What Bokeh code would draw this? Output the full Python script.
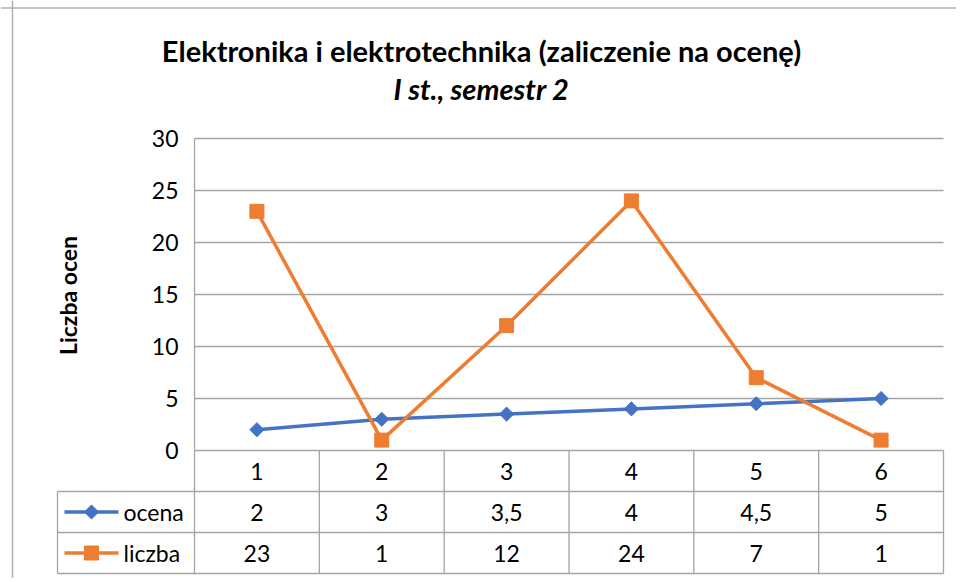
import numpy as np
from bokeh.plotting import figure
from bokeh.models import Range1d, Span
from bokeh.core.properties import value
from bokeh.embed import file_html
from bokeh.resources import INLINE

# ---- data ----
categories = ["1", "2", "3", "4", "5", "6"]
ocena = [2, 3, 3.5, 4, 4.5, 5]
liczba = [23, 1, 12, 24, 7, 1]
ocena_labels = ["2", "3", "3,5", "4", "4,5", "5"]
liczba_labels = ["23", "1", "12", "24", "7", "1"]
yticks = [0, 5, 10, 15, 20, 25, 30]
series_names = ["ocena", "liczba"]
title_text = "Elektronika i elektrotechnika (zaliczenie na ocenę)"
subtitle_text = "I st., semestr 2"
ytitle_text = "Liczba ocen"

# ---- layout (page pixels) ----
W, H = 956, 578
PAGE_X0, PAGE_Y0 = 0, 0
PLOT_LEFT, PLOT_RIGHT = 194, 943
Y0_PX, Y30_PX = 450, 138
ROW_PX = [450, 491, 532, 573]
KEY_LEFT = 57

ncat = len(categories)
px_per_x = (PLOT_RIGHT - PLOT_LEFT) / ncat
px_per_y = (Y0_PX - Y30_PX) / 30.0


def dx(page_x):
    return 0.5 + (page_x - PLOT_LEFT) / px_per_x


def dy(page_y):
    return (Y0_PX - page_y) / px_per_y


xs = list(range(1, ncat + 1))

p = figure(width=W, height=H, output_backend="svg", toolbar_location=None,
           x_axis_type=None, y_axis_type=None,
           x_range=Range1d(dx(PAGE_X0), dx(PAGE_X0 + W)),
           y_range=Range1d(dy(PAGE_Y0 + H), dy(PAGE_Y0)),
           min_border=0, outline_line_color=None)
p.grid.visible = False

FONT = value("Lato")
GRAY = "#a5a5a5"
BLUE = "#4472c4"
ORANGE = "#ed7d31"

# chart area frame (top and left visible)
p.add_layout(Span(location=dx(12), dimension="height", line_color="#b0b0b0", line_width=1.5))
p.add_layout(Span(location=dy(7.5), dimension="width", line_color="#b0b0b0", line_width=1.5))

# horizontal gridlines
p.segment(x0=[0.5] * len(yticks), x1=[ncat + 0.5] * len(yticks), y0=yticks, y1=yticks,
          line_color=GRAY, line_width=1.3)
# y axis line
p.segment(x0=[0.5], x1=[0.5], y0=[0], y1=[max(yticks)], line_color=GRAY, line_width=1.3)

# table
rows_y = [dy(v) for v in ROW_PX]
vx = [i + 0.5 for i in range(ncat + 1)]
p.segment(x0=vx, x1=vx, y0=[rows_y[0]] * len(vx), y1=[rows_y[-1]] * len(vx),
          line_color=GRAY, line_width=1.3)
kx = dx(KEY_LEFT)
p.segment(x0=[kx], x1=[kx], y0=[rows_y[1]], y1=[rows_y[3]], line_color=GRAY, line_width=1.3)
p.segment(x0=[kx] * 3, x1=[ncat + 0.5] * 3, y0=rows_y[1:], y1=rows_y[1:],
          line_color=GRAY, line_width=1.3)

row_c = [(rows_y[i] + rows_y[i + 1]) / 2 for i in range(3)]
p.text(x=xs, y=[row_c[0]] * ncat, text=categories, text_font=FONT, text_font_size="23px",
       text_align="center", text_baseline="middle", text_color="#000000")
p.text(x=xs, y=[row_c[1]] * ncat, text=ocena_labels, text_font=FONT, text_font_size="23px",
       text_align="center", text_baseline="middle", text_color="#000000")
p.text(x=xs, y=[row_c[2]] * ncat, text=liczba_labels, text_font=FONT, text_font_size="23px",
       text_align="center", text_baseline="middle", text_color="#000000")

# legend keys in table
k0, k1, km = dx(64), dx(118), dx(91)
p.segment(x0=[k0], x1=[k1], y0=[row_c[1]], y1=[row_c[1]], line_color=BLUE, line_width=3.5)
p.scatter(x=[km], y=[row_c[1]], marker="square", angle=np.pi / 4, size=10,
          fill_color=BLUE, line_color=BLUE)
p.segment(x0=[k0], x1=[k1], y0=[row_c[2]], y1=[row_c[2]], line_color=ORANGE, line_width=3.5)
p.scatter(x=[km], y=[row_c[2]], marker="square", size=14, fill_color=ORANGE, line_color=ORANGE)
p.text(x=[dx(123)] * 2, y=row_c[1:], text=series_names, text_font=FONT, text_font_size="23px",
       text_align="left", text_baseline="middle", text_color="#000000")

# series
p.line(xs, ocena, line_color=BLUE, line_width=3.5)
p.scatter(xs, ocena, marker="square", angle=np.pi / 4, size=10, fill_color=BLUE, line_color=BLUE)
p.line(xs, liczba, line_color=ORANGE, line_width=3.5)
p.scatter(xs, liczba, marker="square", size=14, fill_color=ORANGE, line_color=ORANGE)

# y tick labels
p.text(x=[0.5] * len(yticks), y=yticks, text=[str(t) for t in yticks], x_offset=-16,
       text_font=FONT, text_font_size="23px", text_align="right", text_baseline="middle",
       text_color="#000000")

# y axis title
p.text(x=[dx(67)], y=[dy(295)], text=[ytitle_text], angle=np.pi / 2, text_font=FONT,
       text_font_size="23px", text_font_style="bold", text_align="center",
       text_baseline="middle", text_color="#000000")

# titles
p.text(x=[dx(481)], y=[dy(50)], text=[title_text], text_font=FONT, text_font_size="29px",
       text_font_style="bold", text_align="center", text_baseline="middle", text_color="#000000")
p.text(x=[dx(481)], y=[dy(88)], text=[subtitle_text], text_font=FONT, text_font_size="29px",
       text_font_style="bold italic", text_align="center", text_baseline="middle",
       text_color="#000000")

open("out.html", "w").write(file_html(p, INLINE))
